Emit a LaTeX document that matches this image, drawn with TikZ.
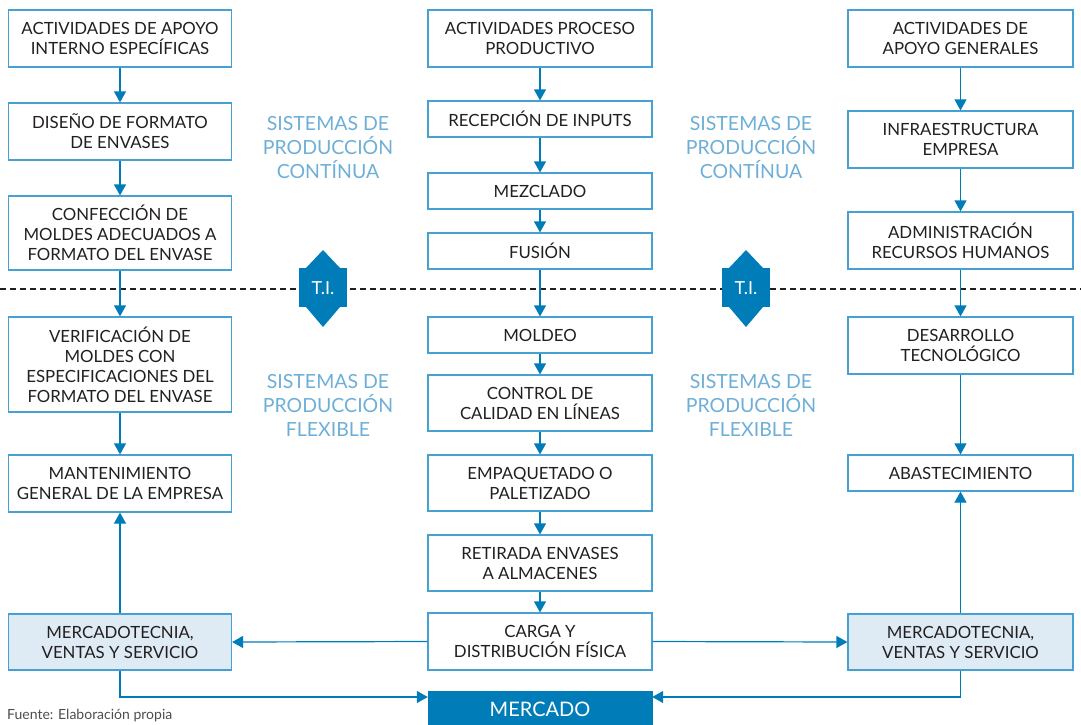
\documentclass[tikz,border=0pt]{standalone}
\usepackage{fontspec}
\setmainfont{Lato}
\usetikzlibrary{arrows.meta}
\definecolor{boxblue}{RGB}{70,160,210}
\definecolor{arrblue}{RGB}{0,125,185}
\definecolor{fillblue}{RGB}{222,235,245}
\definecolor{sysblue}{RGB}{110,175,215}
\definecolor{txt}{RGB}{35,31,32}
\tikzset{
  box/.style={draw=boxblue, line width=1.2pt, fill=white, minimum width=223pt, inner sep=0pt, align=center, text=txt, font=\fontsize{16.8}{20}\selectfont},
  mkbox/.style={box, fill=fillblue},
  merc/.style={fill=arrblue, draw=arrblue, minimum width=224pt, minimum height=36pt, inner sep=0pt, text=white, font=\fontsize{20}{22}\selectfont},
  arr/.style={draw=arrblue, line width=1.2pt, -{Triangle[width=12pt,length=11pt]}},
  sys/.style={text=sysblue, align=center, font=\fontsize{19.5}{24}\selectfont},
  ti/.style={fill=arrblue},
  titext/.style={text=white, font=\fontsize{18}{20}\selectfont},
}
\begin{document}
\begin{tikzpicture}[x=1pt,y=-1pt]
\useasboundingbox (0,0) rectangle (1081,724);
% dashed separator
\draw[line width=2.4pt, dash pattern=on 6pt off 4pt, color=txt] (0,289) -- (1081,289);
% T.I. shapes
\foreach \cx/\nm in {323/tia, 746/tib}{
  \fill[ti] (\cx-24,268) rectangle (\cx+24,307);
  \fill[ti] (\cx,250) -- (\cx+17,268) -- (\cx-17,268) -- cycle;
  \fill[ti] (\cx-17,307) -- (\cx+17,307) -- (\cx,327) -- cycle;
  \node[titext] (\nm) at (\cx,288) {T.I.};
}
% system labels
\node[sys] (sc1) at (328,148) {SISTEMAS DE\\PRODUCCIÓN\\CONTÍNUA};
\node[sys] (sc2) at (751,148) {SISTEMAS DE\\PRODUCCIÓN\\CONTÍNUA};
\node[sys] (sf1) at (328,405) {SISTEMAS DE\\PRODUCCIÓN\\FLEXIBLE};
\node[sys] (sf2) at (751,405) {SISTEMAS DE\\PRODUCCIÓN\\FLEXIBLE};
% left column
\node[box, minimum height=57pt] (L1) at (120,38.5) {ACTIVIDADES DE APOYO\\INTERNO ESPECÍFICAS};
\node[box, minimum height=57pt] (L2) at (120,131.5) {DISEÑO DE FORMATO\\DE ENVASES};
\node[box, minimum height=74pt] (L3) at (120,233) {CONFECCIÓN DE\\MOLDES ADECUADOS A\\FORMATO DEL ENVASE};
\node[box, minimum height=95pt] (L4) at (120,364.5) {VERIFICACIÓN DE\\MOLDES CON\\ESPECIFICACIONES DEL\\FORMATO DEL ENVASE};
\node[box, minimum height=57pt] (L5) at (120,483.5) {MANTENIMIENTO\\GENERAL DE LA EMPRESA};
\node[mkbox, minimum height=56pt] (L6) at (120,642) {MERCADOTECNIA,\\VENTAS Y SERVICIO};
% middle column
\node[box, minimum width=224pt, minimum height=57pt] (M1) at (540,38.5) {ACTIVIDADES PROCESO\\PRODUCTIVO};
\node[box, minimum width=224pt, minimum height=36pt] (M2) at (540,119) {RECEPCIÓN DE INPUTS};
\node[box, minimum width=224pt, minimum height=36pt] (M3) at (540,191) {MEZCLADO};
\node[box, minimum width=224pt, minimum height=36pt] (M4) at (540,251) {FUSIÓN};
\node[box, minimum width=224pt, minimum height=36pt] (M5) at (540,335) {MOLDEO};
\node[box, minimum width=224pt, minimum height=56pt] (M6) at (540,403) {CONTROL DE\\CALIDAD EN LÍNEAS};
\node[box, minimum width=224pt, minimum height=56pt] (M7) at (540,483) {EMPAQUETADO O\\PALETIZADO};
\node[box, minimum width=224pt, minimum height=56pt] (M8) at (540,563) {RETIRADA ENVASES\\A ALMACENES};
\node[box, minimum width=224pt, minimum height=57pt] (M9) at (540,641.5) {CARGA Y\\DISTRIBUCIÓN FÍSICA};
\node[merc] (MK) at (540,709) {MERCADO};
% right column
\node[box, minimum width=225pt, minimum height=57pt] (R1) at (960.5,38.5) {ACTIVIDADES DE\\APOYO GENERALES};
\node[box, minimum width=225pt, minimum height=57pt] (R2) at (960.5,139.5) {INFRAESTRUCTURA\\EMPRESA};
\node[box, minimum width=225pt, minimum height=57pt] (R3) at (960.5,240.5) {ADMINISTRACIÓN\\RECURSOS HUMANOS};
\node[box, minimum width=225pt, minimum height=57pt] (R4) at (960.5,345.5) {DESARROLLO\\TECNOLÓGICO};
\node[box, minimum width=225pt, minimum height=36pt] (R5) at (960.5,473) {ABASTECIMIENTO};
\node[mkbox, minimum width=225pt, minimum height=56pt] (R6) at (960.5,642) {MERCADOTECNIA,\\VENTAS Y SERVICIO};
% arrows
\foreach \a/\b in {L1/L2,L2/L3,L3/L4,L4/L5,M1/M2,M2/M3,M3/M4,M4/M5,M5/M6,M6/M7,M7/M8,M8/M9,R1/R2,R2/R3,R3/R4,R4/R5}
  \draw[arr] (\a.south) -- (\b.north);
\draw[arr] (L6.north) -- (L5.south);
\draw[arr] (R6.north) -- (R5.south);
\draw[arr] (M9.west) -- (L6.east);
\draw[arr] (M9.east) -- (R6.east -| R6.west);
\coordinate (lc) at (120,697);
\coordinate (rc) at (960.5,697);
\draw[arr] (L6.south) -- (lc) -- (MK.west |- lc);
\draw[arr] (R6.south) -- (rc) -- (MK.east |- rc);
% footer
\node[anchor=base west, inner sep=0pt, text=txt!80, font=\fontsize{14}{16}\selectfont] (src) at (7,719.5) {Fuente: Elaboración propia};
\end{tikzpicture}
\end{document}
